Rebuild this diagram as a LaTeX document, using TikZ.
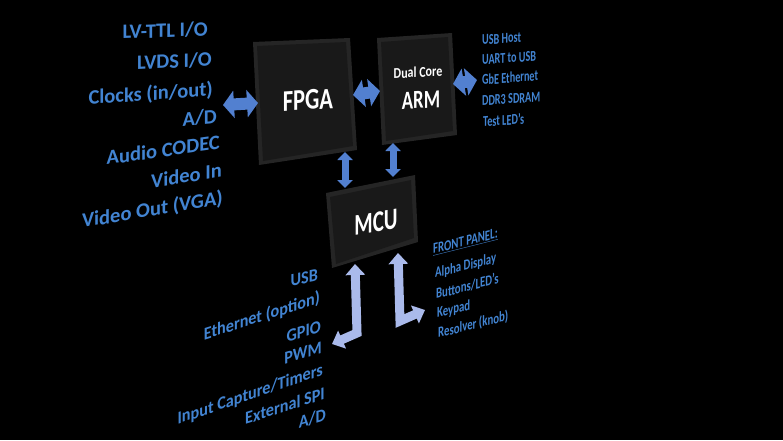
\documentclass[tikz,border=0pt]{standalone}
\usepackage{fontspec}
\setmainfont{Carlito}
\usetikzlibrary{arrows.meta}
\definecolor{lbl}{RGB}{66,132,210}
\definecolor{boxedge}{RGB}{37,37,37}
\definecolor{boxface}{RGB}{25,25,25}
\definecolor{arrowblue}{RGB}{82,128,208}
\definecolor{arrowlight}{RGB}{170,186,235}
\tikzset{
  biglist/.style={text=lbl, inner sep=0pt, anchor=base east, font=\bfseries\fontsize{20.5}{20.5}\selectfont},
  armlist/.style={text=lbl, inner sep=0pt, anchor=base west, yslant=.08, xscale=.68, font=\bfseries\fontsize{15}{15}\selectfont},
  fplist/.style={text=lbl, inner sep=0pt, anchor=base west, yslant=.25, xscale=.72, font=\bfseries\fontsize{15}{15}\selectfont},
  mculist/.style={text=lbl, inner sep=0pt, anchor=base east, font=\bfseries\fontsize{18}{18}\selectfont},
  boxlbl/.style={text=white, inner sep=0pt, font=\bfseries},
  blockarrow/.style={draw=arrowblue, line width=12pt, {Triangle[width=27pt,length=11pt]}-{Triangle[width=27pt,length=11pt]}},
  vblockarrow/.style={draw=arrowblue, line width=7pt, {Triangle[width=15pt,length=8pt]}-{Triangle[width=15pt,length=8pt]}},
  larrow/.style={draw=arrowlight, line width=9pt, line join=miter, {Triangle[width=19pt,length=11pt]}-{Triangle[width=19pt,length=11pt]}}
}
\begin{document}
\begin{tikzpicture}[x=1pt,y=-1pt]
\fill[black] (0,0) rectangle (783,440);
\useasboundingbox (0,0) rectangle (783,440);

% boxes
\fill[boxedge] (253,42) -- (350,38) -- (357,150) -- (259,165) -- cycle;
\fill[boxface] (257,46) -- (346,42) -- (353,146) -- (263,161) -- cycle;
\fill[boxedge] (377,38) -- (452,33) -- (457,135) -- (382,145) -- cycle;
\fill[boxface] (381,42) -- (448,37) -- (453,131) -- (386,141) -- cycle;
\fill[boxedge] (326,193) -- (415,175) -- (418,242) -- (332,268) -- cycle;
\fill[boxface] (330,197) -- (411,180) -- (414,238) -- (336,264) -- cycle;

\node[boxlbl, yslant=.06, xscale=.75, font=\bfseries\fontsize{30}{30}\selectfont] (fpga) at (308,100) {FPGA};
\node[boxlbl, yslant=.05, xscale=.8, font=\bfseries\fontsize{15}{15}\selectfont] (dual) at (418,72) {Dual Core};
\node[boxlbl, yslant=.05, xscale=.72, font=\bfseries\fontsize{26}{26}\selectfont] (arm) at (421,100) {ARM};
\node[boxlbl, yslant=.16, xscale=.7, font=\bfseries\fontsize{30}{30}\selectfont] (mcu) at (376,222) {MCU};

% arrow end points
\coordinate (a1) at (223,105); \coordinate (a2) at (258,103);
\coordinate (b1) at (353,95);  \coordinate (b2) at (380,91);
\coordinate (c1) at (453,84);  \coordinate (c2) at (477,80);
\coordinate (d1) at (345,152); \coordinate (d2) at (345,188);
\coordinate (e1) at (393,143); \coordinate (e2) at (393,177);
\coordinate (f1) at (355,264); \coordinate (fk) at (357,333); \coordinate (f2) at (332,344);
\coordinate (g1) at (398,253); \coordinate (gk) at (400,321); \coordinate (g2) at (425,310);

\draw[blockarrow] (a1) -- (a2);
\draw[blockarrow] (b1) -- (b2);
\draw[blockarrow] (c1) -- (c2);
\draw[vblockarrow] (d1) -- (d2);
\draw[vblockarrow] (e1) -- (e2);
\draw[larrow] (f1) -- (fk) -- (f2);
\draw[larrow] (g1) -- (gk) -- (g2);

% FPGA list
\node[biglist, yslant=.035] (l1) at (208,36) {LV-TTL I/O};
\node[biglist, yslant=.05] (l2) at (212,66) {LVDS I/O};
\node[biglist, yslant=.07] (l3) at (213,96) {Clocks (in/out)};
\node[biglist, yslant=.09] (l4) at (217,123) {A/D};
\node[biglist, yslant=.14] (l5) at (220,149) {Audio CODEC};
\node[biglist, yslant=.16] (l6) at (222,177) {Video In};
\node[biglist, yslant=.17] (l7) at (223,204) {Video Out (VGA)};

% ARM list
\node[armlist] (r1) at (482,45) {USB Host};
\node[armlist] (r2) at (482,65) {UART to USB};
\node[armlist] (r3) at (482,85) {GbE Ethernet};
\node[armlist] (r4) at (482,106) {DDR3 SDRAM};
\node[armlist] (r5) at (483,127) {Test LED’s};

% front panel list
\node[fplist] (p0) at (433,254) {\underline{FRONT PANEL:}};
\node[fplist] (p1) at (435,278) {Alpha Display};
\node[fplist] (p2) at (436,299) {Buttons/LED’s};
\node[fplist] (p3) at (437,318) {Keypad};
\node[fplist] (p4) at (438,338) {Resolver (knob)};

% MCU list
\node[mculist, yslant=.2, xscale=.9] (m1) at (318,281) {USB};
\node[mculist, yslant=.32, xscale=.9] (m2) at (320,303) {Ethernet (option)};
\node[mculist, yslant=.3, xscale=.9] (m3) at (321,332) {GPIO};
\node[mculist, yslant=.3, xscale=.9] (m4) at (322,353) {PWM};
\node[mculist, yslant=.34, xscale=.9] (m5) at (323,375) {Input Capture/Timers};
\node[mculist, yslant=.32, xscale=.9] (m6) at (325,399) {External SPI};
\node[mculist, yslant=.3, xscale=.9] (m7) at (326,420) {A/D};
\end{tikzpicture}
\end{document}
